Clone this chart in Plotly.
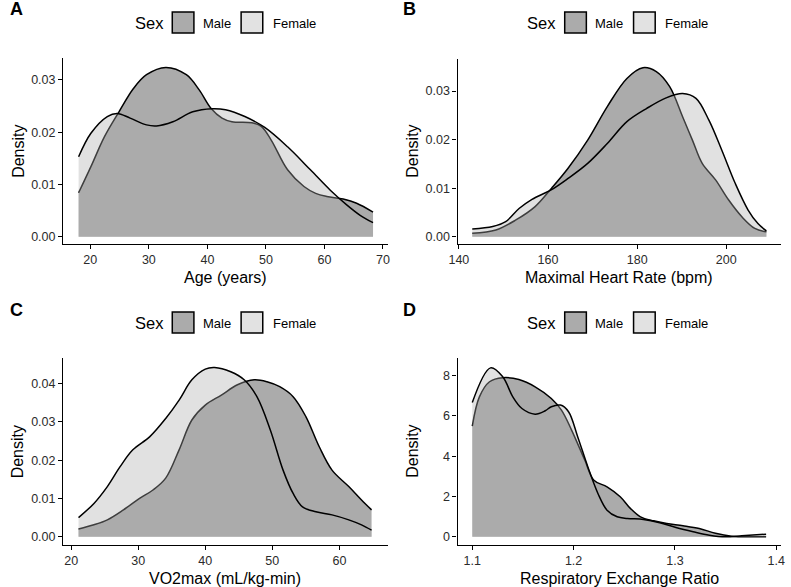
import plotly.graph_objects as go

W, H = 791, 587
FONT = "Liberation Sans, Arial, sans-serif"
MALE_FILL = "#ABABAB"
FEMALE_FILL = "rgba(171,171,171,0.36)"
FEMALE_KEY = "#E2E2E2"

# ---------------- data ----------------
age_male_x = [18.0, 20.1, 22.4, 24.9, 27.4, 29.6, 32.9, 36.4, 38.6, 40.6, 42.5, 44.2, 47.6, 49.2, 50.9, 53.7, 56.5, 58.5, 60.4, 63.2, 65.5, 68.3]
age_male_y = [0.0084, 0.0134, 0.0191, 0.0239, 0.0284, 0.0310, 0.0324, 0.0310, 0.0281, 0.0246, 0.0227, 0.0220, 0.0218, 0.0211, 0.0185, 0.0128, 0.0096, 0.0083, 0.0077, 0.0072, 0.0064, 0.0047]
age_female_x = [18.0, 20.1, 22.9, 24.6, 26.8, 29.6, 31.3, 34.1, 37.5, 40.8, 43.1, 46.4, 49.8, 53.7, 57.6, 61.0, 63.8, 66.1, 68.3]
age_female_y = [0.0153, 0.0198, 0.0230, 0.0236, 0.0227, 0.0214, 0.0212, 0.0220, 0.0239, 0.0245, 0.0243, 0.0230, 0.0209, 0.0172, 0.0128, 0.0089, 0.0061, 0.0041, 0.0027]

hr_male_x = [143.0, 148.3, 152.7, 157.1, 160.8, 164.5, 168.9, 173.3, 177.7, 181.3, 184.3, 187.3, 190.2, 192.4, 194.6, 197.6, 200.5, 203.5, 206.4, 209.0]
hr_male_y = [0.0007, 0.0014, 0.0034, 0.0062, 0.0100, 0.0141, 0.0199, 0.0268, 0.0326, 0.0348, 0.0340, 0.0309, 0.0247, 0.0199, 0.0151, 0.0117, 0.0076, 0.0041, 0.0017, 0.0010]
hr_female_x = [143.0, 147.6, 150.5, 153.5, 156.4, 160.8, 164.5, 168.9, 173.3, 177.7, 182.1, 186.5, 190.2, 193.2, 196.1, 199.0, 202.0, 204.9, 207.1, 209.0]
hr_female_y = [0.0016, 0.0021, 0.0031, 0.0058, 0.0077, 0.0097, 0.0120, 0.0151, 0.0192, 0.0237, 0.0264, 0.0286, 0.0295, 0.0285, 0.0240, 0.0178, 0.0110, 0.0055, 0.0027, 0.0012]

vo2_male_x = [21.1, 23.4, 25.4, 27.8, 30.2, 32.2, 34.1, 36.1, 38.0, 40.0, 42.4, 44.8, 47.3, 49.2, 51.1, 53.1, 55.0, 57.0, 58.9, 61.4, 63.3, 64.8]
vo2_male_y = [0.0020, 0.0031, 0.0044, 0.0070, 0.0100, 0.0122, 0.0153, 0.0227, 0.0305, 0.0344, 0.0370, 0.0397, 0.0410, 0.0405, 0.0392, 0.0366, 0.0314, 0.0235, 0.0174, 0.0131, 0.0096, 0.0070]
vo2_female_x = [21.1, 23.4, 25.4, 27.3, 29.2, 31.7, 34.1, 36.1, 38.0, 40.0, 41.4, 43.8, 45.8, 47.7, 49.7, 51.6, 53.1, 54.5, 56.5, 58.9, 61.4, 63.3, 64.8]
vo2_female_y = [0.0050, 0.0087, 0.0131, 0.0183, 0.0227, 0.0261, 0.0309, 0.0357, 0.0410, 0.0438, 0.0442, 0.0431, 0.0410, 0.0366, 0.0279, 0.0174, 0.0113, 0.0078, 0.0065, 0.0057, 0.0044, 0.0031, 0.0017]

rer_male_x = [1.100, 1.107, 1.117, 1.130, 1.146, 1.162, 1.178, 1.188, 1.198, 1.211, 1.220, 1.233, 1.246, 1.256, 1.266, 1.279, 1.292, 1.308, 1.324, 1.340, 1.356, 1.376, 1.390]
rer_male_y = [5.50, 6.95, 7.70, 7.90, 7.81, 7.45, 6.87, 6.29, 5.30, 3.81, 2.81, 2.48, 1.99, 1.41, 0.99, 0.79, 0.66, 0.55, 0.41, 0.17, 0.03, 0.00, 0.00]
rer_female_x = [1.100, 1.118, 1.130, 1.140, 1.149, 1.162, 1.172, 1.178, 1.187, 1.195, 1.204, 1.214, 1.224, 1.233, 1.243, 1.253, 1.269, 1.285, 1.301, 1.318, 1.334, 1.350, 1.366, 1.390]
rer_female_y = [6.67, 8.39, 7.95, 6.95, 6.37, 6.09, 6.26, 6.46, 6.54, 6.21, 4.97, 3.48, 2.15, 1.32, 0.99, 0.91, 0.86, 0.70, 0.46, 0.25, 0.08, 0.00, 0.05, 0.13]

x_titles = ["Age (years)", "Maximal Heart Rate (bpm)", "VO2max (mL/kg-min)", "Respiratory Exchange Ratio"]
panel_letters = ["A", "B", "C", "D"]
sex_labels = ["Male", "Female"]

# ---------------- layout geometry (pixels) ----------------
panels = [
    dict(dom=(55, 385, 58, 244), xr=[15.35, 70.8], yr=[-0.0014, 0.0342],
         xt=[20, 30, 40, 50, 60, 70], yt=[0, 0.01, 0.02, 0.03], yfmt=".2f", xfmt="",
         m=(age_male_x, age_male_y), f=(age_female_x, age_female_y), ox=0, oy=0),
    dict(dom=(456, 785, 59, 244), xr=[139.69, 212.3], yr=[-0.0015, 0.0366],
         xt=[140, 160, 180, 200], yt=[0, 0.01, 0.02, 0.03], yfmt=".2f", xfmt="",
         m=(hr_male_x, hr_male_y), f=(hr_female_x, hr_female_y), ox=399, oy=0),
    dict(dom=(55, 385, 358, 545), xr=[18.8, 67.2], yr=[-0.00217, 0.0467],
         xt=[20, 30, 40, 50, 60], yt=[0, 0.01, 0.02, 0.03, 0.04], yfmt=".2f", xfmt="",
         m=(vo2_male_x, vo2_male_y), f=(vo2_female_x, vo2_female_y), ox=0, oy=300),
    dict(dom=(456, 785, 358, 545), xr=[1.0854, 1.4048], yr=[-0.41, 8.88],
         xt=[1.1, 1.2, 1.3, 1.4], yt=[0, 2, 4, 6, 8], yfmt="", xfmt=".1f",
         m=(rer_male_x, rer_male_y), f=(rer_female_x, rer_female_y), ox=399, oy=300),
]

def px(x):
    return x / W

def py(y):
    return 1 - y / H

fig = go.Figure()
annotations = []
shapes = []

for i, p in enumerate(panels):
    n = "" if i == 0 else str(i + 1)
    xa, ya = "x" + n, "y" + n
    x0, x1, y0, y1 = p["dom"]
    fig.add_trace(go.Scatter(x=p["m"][0], y=p["m"][1], mode="lines", fill="tozeroy",
                             fillcolor=MALE_FILL, line=dict(color="black", width=1.5, shape="spline", smoothing=1.0),
                             xaxis=xa, yaxis=ya, showlegend=False, name="Male"))
    fig.add_trace(go.Scatter(x=p["f"][0], y=p["f"][1], mode="lines", fill="tozeroy",
                             fillcolor=FEMALE_FILL, line=dict(color="black", width=1.5, shape="spline", smoothing=1.0),
                             xaxis=xa, yaxis=ya, showlegend=False, name="Female"))
    axcommon = dict(showgrid=False, zeroline=False, showline=True, linecolor="black", linewidth=1.2,
                    ticks="outside", ticklen=4, tickwidth=1.1, tickcolor="black",
                    tickfont=dict(family=FONT, size=12.5, color="#2b2b2b"))
    fig.update_layout(**{
        "xaxis" + n: dict(domain=[px(x0), px(x1)], range=p["xr"], tickvals=p["xt"], tickformat=p["xfmt"],
                          anchor=ya, **axcommon),
        "yaxis" + n: dict(domain=[py(y1), py(y0)], range=p["yr"], tickvals=p["yt"], tickformat=p["yfmt"],
                          anchor=xa, **axcommon),
    })
    # axis titles
    annotations.append(dict(text=x_titles[i], x=px((x0 + x1) / 2), y=py(y1 + 33), xref="paper", yref="paper",
                            showarrow=False, xanchor="center", yanchor="middle",
                            font=dict(family=FONT, size=16, color="black")))
    annotations.append(dict(text="Density", x=px(x0 - 46), y=py((y0 + y1) / 2), xref="paper", yref="paper",
                            showarrow=False, textangle=-90, xanchor="center", yanchor="middle",
                            font=dict(family=FONT, size=16, color="black")))
    # panel letter
    annotations.append(dict(text="<b>%s</b>" % panel_letters[i], x=px(8 + p["ox"]), y=py(9.5 + p["oy"]),
                            xref="paper", yref="paper", showarrow=False, xanchor="center", yanchor="middle",
                            font=dict(family=FONT, size=18, color="black")))
    # legend
    ox, oy = p["ox"], p["oy"]
    annotations.append(dict(text="Sex", x=px(142.5 + ox), y=py(23 + oy), xref="paper", yref="paper",
                            showarrow=False, xanchor="center", yanchor="middle",
                            font=dict(family=FONT, size=16.5, color="black")))
    for (bx, lx, fillc, lab) in [(166, 211, MALE_FILL, sex_labels[0]), (236, 290, FEMALE_KEY, sex_labels[1])]:
        shapes.append(dict(type="rect", xref="paper", yref="paper",
                           x0=px(bx + ox), x1=px(bx + 22 + ox), y0=py(33 + oy), y1=py(12 + oy),
                           fillcolor=fillc, line=dict(color="black", width=1.5)))
        annotations.append(dict(text=lab, x=px(lx + ox), y=py(23 + oy), xref="paper", yref="paper",
                                showarrow=False, xanchor="center", yanchor="middle",
                                font=dict(family=FONT, size=13, color="black")))

fig.update_layout(width=W, height=H, margin=dict(l=0, r=0, t=0, b=0),
                  paper_bgcolor="white", plot_bgcolor="white",
                  annotations=annotations, shapes=shapes, showlegend=False,
                  font=dict(family=FONT))

fig.write_html("out.html")
